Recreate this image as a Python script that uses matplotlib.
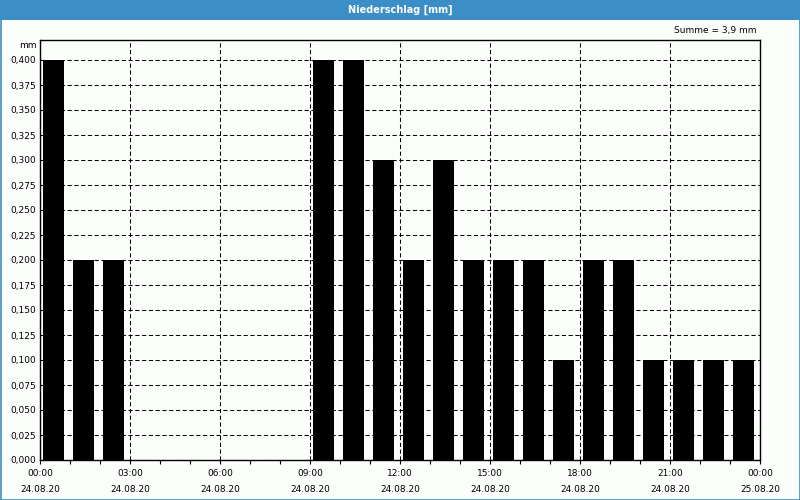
import matplotlib
matplotlib.use("Agg")
import matplotlib.pyplot as plt
from matplotlib.patches import Rectangle
from matplotlib.ticker import MultipleLocator, FuncFormatter

# Data
hours = list(range(24))
precip_mm = [0.4, 0.2, 0.2, 0.0, 0.0, 0.0, 0.0, 0.0, 0.0,
             0.4, 0.4, 0.3, 0.2, 0.3, 0.2, 0.2, 0.2, 0.1,
             0.2, 0.2, 0.1, 0.1, 0.1, 0.1]
tick_hours = [0, 3, 6, 9, 12, 15, 18, 21, 24]
tick_times = ["00:00", "03:00", "06:00", "09:00", "12:00", "15:00", "18:00", "21:00", "00:00"]
tick_dates = ["24.08.20"] * 8 + ["25.08.20"]
title = "Niederschlag [mm]"
unit = "mm"

BLUE = "#3c8fc6"
BG = "#fcfefc"

plt.rcParams['font.family'] = ['DejaVu Sans']

fig = plt.figure(figsize=(8, 5), dpi=100, facecolor=BG)
ax = fig.add_axes([40/800, 40/500, 720/800, 420/500])
ax.set_facecolor(BG)

ax.bar([h + 0.1 for h in hours], precip_mm, width=0.7, align='edge',
       color='black', edgecolor='none', zorder=3)

ax.set_xlim(0, 24)
ax.set_ylim(0, 0.42)

ax.xaxis.set_minor_locator(MultipleLocator(1))
ax.set_xticks(tick_hours)
ax.set_xticklabels([f"{t}\n{d}" for t, d in zip(tick_times, tick_dates)],
                   fontsize=6.5, linespacing=2.0)
ax.tick_params(axis='x', which='both', direction='out', length=3, width=0.8,
               pad=3.5, colors='black')

yticks = [i * 0.025 for i in range(17)]
ax.set_yticks(yticks)
ax.yaxis.set_major_formatter(FuncFormatter(lambda v, p: f"{v:.3f}".replace('.', ',')))
ax.tick_params(axis='y', length=0, pad=3, labelsize=6.5)

ax.set_axisbelow(True)
ax.grid(True, which='major', color='black', linewidth=0.75,
        linestyle=(0, (4, 2.5)))

for s in ax.spines.values():
    s.set_linewidth(1.0)
    s.set_color('black')

# unit label & sum
fig.text(37/800, 1 - 46/500, unit, ha='right', va='center', fontsize=6.5)
total = sum(precip_mm)
fig.text(756/800, 1 - 31/500, f"Summe = {total:.1f} mm".replace('.', ','),
         ha='right', va='center', fontsize=6.5)

# title bar
fig.patches.append(Rectangle((0, 480/500), 1, 20/500, transform=fig.transFigure,
                             facecolor=BLUE, edgecolor='none', zorder=0))
fig.text(0.5, 1 - 10/500, title, ha='center', va='center', color='white',
         fontsize=7, fontweight='bold')
# border
fig.patches.append(Rectangle((0.5/800, 0.5/500), 799/800, 499/500, transform=fig.transFigure,
                             facecolor='none', edgecolor=BLUE, linewidth=1.2, zorder=5))

fig.savefig("out.png", dpi=100, facecolor=BG)
